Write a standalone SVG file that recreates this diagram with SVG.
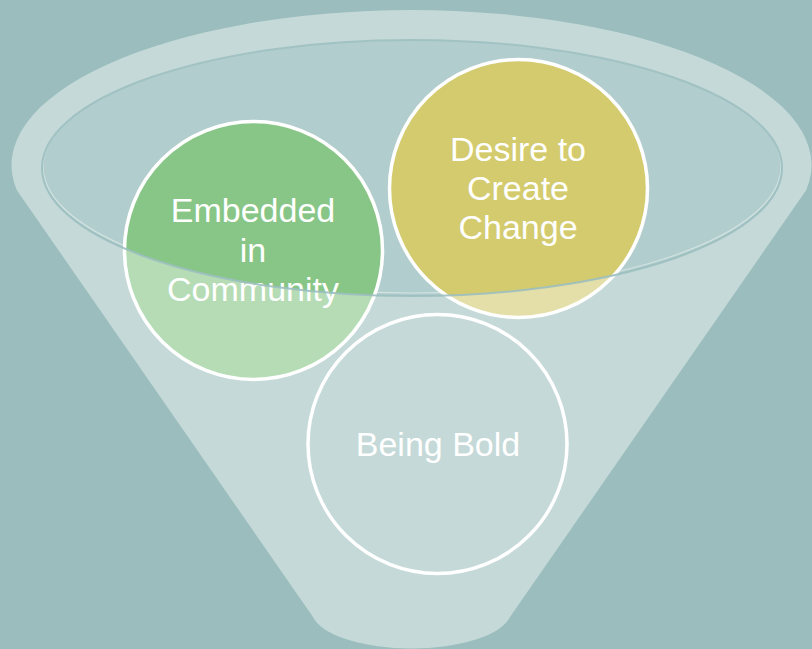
<svg xmlns="http://www.w3.org/2000/svg" width="812" height="649" viewBox="0 0 812 649">
<defs>
<style>
.lbl{font-family:"Liberation Sans","DejaVu Sans",sans-serif;font-size:34px;fill:#ffffff;text-anchor:middle}
.ring{fill:none;stroke:#ffffff;stroke-width:3.5}
</style>
<clipPath id="rimClip"><ellipse cx="412" cy="168" rx="370" ry="128"/></clipPath>
</defs>
<rect width="812" height="649" fill="#9bbdbd"/>
<g id="funnel">
<path d="M16.7,190 A400,155 0 1 1 806.3,190 L510,617 A100,38 0 0 1 313,617 Z" fill="#c4d9d8"/>
<ellipse cx="412" cy="168" rx="370" ry="128" fill="#b2cdcd"/>
<ellipse cx="412" cy="166.5" rx="369" ry="126.5" fill="none" stroke="#d2e3e2" stroke-width="1.2"/>
</g>
<g id="node-embedded">
<circle cx="253.5" cy="250.5" r="129" fill="#b5dcb5"/>
<circle cx="253.5" cy="250.5" r="129" fill="#88c687" clip-path="url(#rimClip)"/>
<circle cx="253.5" cy="250.5" r="129" class="ring"/>
<text class="lbl" x="253" y="222">Embedded</text>
<text class="lbl" x="253" y="262">in</text>
<text class="lbl" x="253" y="301">Community</text>
</g>
<g id="node-desire">
<circle cx="518.5" cy="188.5" r="129" fill="#e4dfa8"/>
<circle cx="518.5" cy="188.5" r="129" fill="#d3cb6d" clip-path="url(#rimClip)"/>
<circle cx="518.5" cy="188.5" r="129" class="ring"/>
<text class="lbl" x="518" y="161">Desire to</text>
<text class="lbl" x="518" y="200">Create</text>
<text class="lbl" x="518" y="239">Change</text>
</g>
<g id="node-bold">
<circle cx="437.5" cy="444" r="129.5" fill="#c4d9d8"/>
<circle cx="437.5" cy="444" r="129.5" class="ring"/>
<text class="lbl" x="438" y="456">Being Bold</text>
</g>
<g id="rim-edge">
<ellipse cx="412" cy="168" rx="370" ry="128" fill="none" stroke="#9cbfc0" stroke-width="2" opacity="0.9"/>
</g>
</svg>
